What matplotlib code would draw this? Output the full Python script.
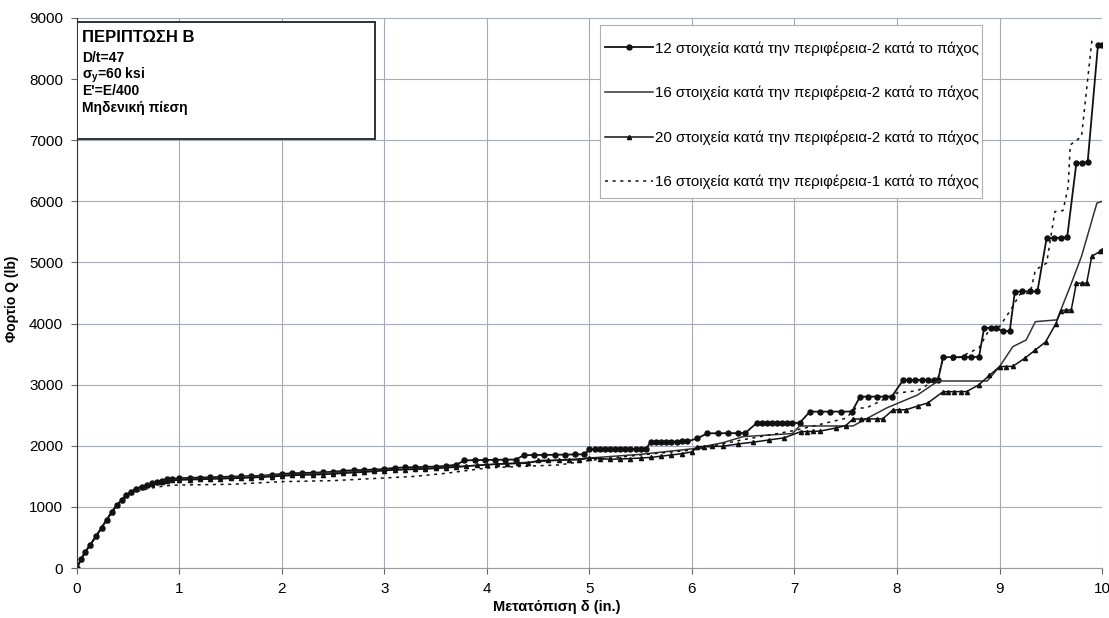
import numpy as np
import matplotlib.pyplot as plt
from matplotlib.patches import Rectangle

plt.rcParams["font.family"] = ["Liberation Sans", "DejaVu Sans"]
plt.rcParams["font.size"] = 10

# 12 elements around, 2 through thickness
x1 = [0.00, 0.04, 0.08, 0.13, 0.19, 0.24, 0.29, 0.34, 0.39, 0.44, 0.48, 0.53,
      0.58, 0.63, 0.68, 0.73, 0.78, 0.83, 0.88, 0.93, 1.00, 1.10, 1.20, 1.30,
      1.40, 1.50, 1.60, 1.70, 1.80, 1.90, 2.00, 2.10, 2.20, 2.30, 2.40, 2.50,
      2.60, 2.70, 2.80, 2.90, 3.00, 3.10, 3.20, 3.30, 3.40, 3.50, 3.60, 3.70,
      3.78, 3.88, 3.98, 4.08, 4.18, 4.28, 4.36, 4.46, 4.56, 4.66, 4.76, 4.86,
      4.95, 5.00, 5.05, 5.10, 5.15, 5.20, 5.25, 5.30, 5.35, 5.40, 5.45, 5.50,
      5.55, 5.60, 5.65, 5.70, 5.75, 5.80, 5.85, 5.90, 5.95, 6.05, 6.15, 6.25,
      6.35, 6.45, 6.52, 6.63, 6.68, 6.73, 6.78, 6.83, 6.88, 6.93, 6.98, 7.05,
      7.15, 7.25, 7.35, 7.45, 7.56, 7.64, 7.72, 7.80, 7.88, 7.95, 8.06, 8.12,
      8.18, 8.24, 8.30, 8.36, 8.40, 8.45, 8.55, 8.65, 8.72, 8.80, 8.85, 8.92,
      8.97, 9.03, 9.10, 9.15, 9.22, 9.30, 9.37, 9.46, 9.53, 9.60, 9.66, 9.75,
      9.80, 9.86, 9.96, 10.00]
q1 = [0, 150, 260, 380, 530, 660, 790, 920, 1030, 1120, 1190, 1250,
      1300, 1330, 1360, 1385, 1410, 1430, 1450, 1460, 1470, 1475, 1480, 1485,
      1490, 1495, 1500, 1505, 1510, 1525, 1540, 1550, 1555, 1560, 1565, 1575,
      1590, 1600, 1605, 1610, 1620, 1640, 1645, 1650, 1655, 1660, 1670, 1690,
      1760, 1765, 1768, 1770, 1772, 1775, 1845, 1850, 1850, 1852, 1855, 1858,
      1860, 1942, 1942, 1943, 1943, 1944, 1944, 1945, 1945, 1946, 1946, 1947,
      1947, 2067, 2067, 2068, 2068, 2069, 2069, 2070, 2070, 2120, 2204, 2205,
      2205, 2207, 2210, 2370, 2370, 2371, 2371, 2372, 2372, 2373, 2373, 2374,
      2558, 2558, 2559, 2559, 2560, 2804, 2804, 2805, 2805, 2806, 3077, 3077,
      3077, 3078, 3078, 3078, 3078, 3450, 3450, 3452, 3453, 3455, 3928, 3930,
      3930, 3870, 3880, 4522, 4525, 4525, 4528, 5400, 5400, 5405, 5410, 6628,
      6630, 6640, 8550, 8560]

# 16 elements around, 2 through thickness
x2 = [0.00, 0.08, 0.19, 0.29, 0.39, 0.48, 0.58, 0.68, 0.78, 0.88, 1.00, 1.50,
      2.00, 2.50, 3.00, 3.50, 4.00, 4.50, 5.00, 5.50, 6.00, 6.30, 6.50, 6.98,
      7.05, 7.57, 7.90, 8.20, 8.40, 8.88, 9.00, 9.13, 9.26, 9.35, 9.56, 9.69,
      9.80, 9.95, 10.00]
q2 = [0, 260, 530, 790, 1030, 1190, 1300, 1360, 1405, 1430, 1450, 1480,
      1520, 1560, 1600, 1640, 1690, 1740, 1800, 1860, 1950, 2050, 2150, 2200,
      2324, 2324, 2620, 2831, 3060, 3060, 3294, 3622, 3731, 4031, 4060, 4610,
      5100, 5970, 6000]

# 20 elements around, 2 through thickness
x3 = [0.00, 0.04, 0.08, 0.13, 0.19, 0.24, 0.29, 0.34, 0.39, 0.44, 0.48, 0.53,
      0.58, 0.63, 0.68, 0.73, 0.78, 0.83, 0.88, 0.93, 1.00, 1.10, 1.20, 1.30,
      1.40, 1.50, 1.60, 1.70, 1.80, 1.90, 2.00, 2.10, 2.20, 2.30, 2.40, 2.50,
      2.60, 2.70, 2.80, 2.90, 3.00, 3.10, 3.20, 3.30, 3.40, 3.50, 3.60, 3.70,
      3.80, 3.90, 4.00, 4.10, 4.20, 4.30, 4.40, 4.50, 4.60, 4.70, 4.80, 4.90,
      5.00, 5.10, 5.20, 5.30, 5.40, 5.50, 5.60, 5.70, 5.80, 5.90, 6.00, 6.05,
      6.12, 6.20, 6.30, 6.45, 6.60, 6.75, 6.90, 7.06, 7.12, 7.18, 7.25, 7.40,
      7.50, 7.57, 7.65, 7.72, 7.80, 7.86, 7.96, 8.02, 8.09, 8.20, 8.30, 8.45,
      8.50, 8.56, 8.62, 8.68, 8.80, 8.90, 9.00, 9.06, 9.13, 9.25, 9.35, 9.45,
      9.55, 9.60, 9.65, 9.70, 9.75, 9.80, 9.85, 9.90, 9.98, 10.00]
q3 = [0, 150, 260, 380, 530, 660, 790, 920, 1030, 1120, 1190, 1250,
      1300, 1330, 1355, 1380, 1400, 1415, 1425, 1432, 1440, 1445, 1450, 1455,
      1460, 1465, 1470, 1478, 1485, 1495, 1505, 1515, 1520, 1525, 1530, 1540,
      1550, 1560, 1570, 1580, 1595, 1605, 1610, 1615, 1620, 1630, 1640, 1650,
      1665, 1680, 1690, 1700, 1705, 1710, 1715, 1760, 1762, 1765, 1768, 1770,
      1800, 1790, 1780, 1785, 1790, 1800, 1810, 1830, 1850, 1870, 1900, 1986,
      1988, 1990, 1992, 2030, 2060, 2095, 2130, 2231, 2233, 2236, 2240, 2290,
      2330, 2438, 2438, 2439, 2440, 2440, 2586, 2588, 2590, 2650, 2700, 2885,
      2885, 2886, 2886, 2887, 3000, 3150, 3294, 3297, 3300, 3437, 3568, 3700,
      4000, 4210, 4220, 4225, 4660, 4660, 4662, 5100, 5180, 5200]

# 16 elements around, 1 through thickness
x4 = [0.00, 0.08, 0.19, 0.29, 0.39, 0.48, 0.58, 0.70, 0.80, 0.90, 1.00, 1.50,
      2.00, 2.50, 3.00, 3.30, 3.60, 4.00, 4.30, 4.70, 5.00, 5.50, 6.00, 6.50,
      7.00, 7.50, 7.60, 7.70, 8.00, 8.20, 8.40, 8.45, 8.55, 8.80, 8.90, 9.00,
      9.10, 9.20, 9.30, 9.35, 9.46, 9.54, 9.62, 9.67, 9.69, 9.80, 9.90, 9.93]
q4 = [0, 260, 530, 790, 1030, 1170, 1250, 1300, 1330, 1350, 1358, 1370,
      1413, 1430, 1473, 1500, 1550, 1637, 1660, 1686, 1760, 1850, 1930, 2100,
      2250, 2450, 2618, 2618, 2864, 2900, 3100, 3450, 3400, 3600, 3900, 3950,
      4200, 4480, 4500, 4877, 4990, 5831, 5850, 6240, 6923, 7059, 8614, 8690]

labels = ["12 στοιχεία κατά την περιφέρεια-2 κατά το πάχος",
          "16 στοιχεία κατά την περιφέρεια-2 κατά το πάχος",
          "20 στοιχεία κατά την περιφέρεια-2 κατά το πάχος",
          "16 στοιχεία κατά την περιφέρεια-1 κατά το πάχος"]

fig = plt.figure(figsize=(11.09, 6.18), dpi=100)
ax = fig.add_axes([0.0694, 0.0809, 0.9243, 0.8900])
W, H = 1109, 618

ax.plot(x1, q1, color='#111111', lw=1.3, marker='o', ms=3.6, label=labels[0])
ax.plot(x2, q2, color='#333333', lw=1.1, label=labels[1])
ax.plot(x3, q3, color='#111111', lw=1.1, marker='^', ms=3.0, label=labels[2])
ax.plot(x4, q4, color='#111111', lw=1.1, ls=(0, (2, 3)), label=labels[3])

ax.set_xlim(0, 10)
ax.set_ylim(0, 9000)
ax.set_xticks(np.arange(0, 11, 1))
ax.set_yticks(np.arange(0, 10000, 1000))
ax.grid(True, color='#a4aab8', lw=0.8)
ax.set_axisbelow(True)
for s in ['top', 'right']:
    ax.spines[s].set_visible(False)
ax.spines['left'].set_color('#333333')
ax.spines['bottom'].set_color('#999999')
ax.tick_params(axis='both', direction='out', length=4, color='#666666',
               labelsize=11, pad=6)

ax.set_xlabel('Μετατόπιση δ (in.)', fontsize=10.5, fontweight='bold')
ax.xaxis.set_label_coords(0.468, -0.058)
ax.set_ylabel('Φορτίο Q (lb)', fontsize=10, fontweight='bold')
ax.yaxis.set_label_coords(-0.057, 0.49)

# info box
ax.add_patch(Rectangle((0.0, 0.78), 0.291, 0.213, transform=ax.transAxes,
                       fill=True, facecolor='white', edgecolor='#222222',
                       lw=1.3, zorder=5))
ax.text(0.0046, 0.956, 'ΠΕΡΙΠΤΩΣΗ Β', transform=ax.transAxes, fontsize=12,
        fontweight='bold', va='baseline', zorder=6)
info = ['D/t=47', r'σ$_{\mathregular{y}}$=60 ksi', "E'=E/400", 'Μηδενική πίεση']
for i, t in enumerate(info):
    ax.text(0.0046, 0.92 - i * 0.0303, t, transform=ax.transAxes, fontsize=10,
            fontweight='bold', va='baseline', zorder=6)

# legend frame drawn separately so the padding can differ per side
ax.add_patch(Rectangle((600 / W, 1 - 198 / H), 382 / W, 173 / H,
                       transform=fig.transFigure, facecolor='white',
                       edgecolor='#b0b0b0', lw=0.8, zorder=5, clip_on=False))
leg = ax.legend(loc='upper left', bbox_to_anchor=(599 / W, 1 - 35 / H),
                bbox_transform=fig.transFigure, fontsize=10.85,
                labelspacing=2.0, handlelength=3.2, handletextpad=0.1,
                borderpad=0.4, borderaxespad=0, frameon=False)
leg.set_zorder(6)

fig.savefig('out.png', dpi=100)
